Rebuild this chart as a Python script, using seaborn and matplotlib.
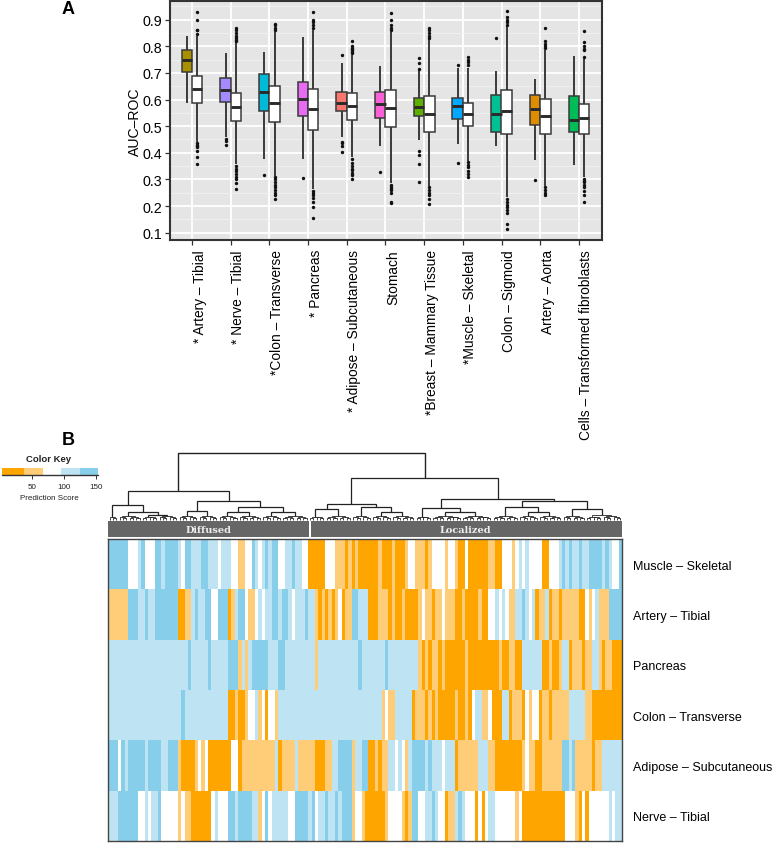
import math
import numpy as np
import pandas as pd
import matplotlib
matplotlib.use("Agg")
import matplotlib.pyplot as plt
from matplotlib.colors import ListedColormap, BoundaryNorm
from matplotlib.transforms import ScaledTranslation
import seaborn as sns

# ---------------- Panel A data ----------------
tissues = ["Artery – Tibial", "Nerve – Tibial", "Colon – Transverse", "Pancreas",
           "Adipose – Subcutaneous", "Stomach", "Breast – Mammary Tissue",
           "Muscle – Skeletal", "Colon – Sigmoid", "Artery – Aorta",
           "Cells – Transformed fibroblasts"]
tick_labels = ["* Artery – Tibial", "* Nerve – Tibial", "*Colon – Transverse", "* Pancreas",
               "* Adipose – Subcutaneous", "Stomach", "*Breast – Mammary Tissue",
               "*Muscle – Skeletal", "Colon – Sigmoid", "Artery – Aorta",
               "Cells – Transformed fibroblasts"]
tissue_colors = ["#A89000", "#A58AFF", "#00BAD8", "#E76BF3", "#F8766D", "#FB61D7",
                 "#5FAF00", "#00A9FF", "#00C094", "#DE8C00", "#00BC56"]

# low whisker, q1, median, q3, high whisker
tissue_box = [
    [0.586, 0.702, 0.747, 0.786, 0.840],
    [0.458, 0.592, 0.636, 0.681, 0.773],
    [0.377, 0.558, 0.627, 0.695, 0.777],
    [0.377, 0.537, 0.602, 0.664, 0.834],
    [0.458, 0.556, 0.587, 0.630, 0.736],
    [0.427, 0.530, 0.585, 0.630, 0.727],
    [0.449, 0.537, 0.573, 0.607, 0.712],
    [0.433, 0.527, 0.577, 0.606, 0.720],
    [0.424, 0.478, 0.547, 0.616, 0.706],
    [0.374, 0.503, 0.565, 0.616, 0.677],
    [0.354, 0.478, 0.525, 0.612, 0.765],
]
random_box = [
    [0.440, 0.588, 0.638, 0.687, 0.840],
    [0.358, 0.518, 0.573, 0.623, 0.815],
    [0.314, 0.516, 0.587, 0.650, 0.852],
    [0.264, 0.487, 0.565, 0.641, 0.862],
    [0.383, 0.525, 0.575, 0.623, 0.767],
    [0.287, 0.496, 0.567, 0.637, 0.852],
    [0.274, 0.477, 0.547, 0.615, 0.827],
    [0.370, 0.500, 0.545, 0.588, 0.720],
    [0.233, 0.472, 0.556, 0.637, 0.875],
    [0.277, 0.469, 0.538, 0.601, 0.787],
    [0.308, 0.472, 0.529, 0.583, 0.752],
]
tissue_outliers = [
    [],
    [0.452, 0.445, 0.428],
    [0.318],
    [0.305],
    [0.767, 0.440, 0.435, 0.425, 0.403],
    [0.327],
    [0.755, 0.736, 0.715, 0.406, 0.390, 0.357, 0.290],
    [0.728, 0.362],
    [0.830],
    [0.298],
    [],
]
random_outliers = [
    [0.845, 0.860, 0.862, 0.900, 0.928, 0.435, 0.430, 0.425, 0.420, 0.405, 0.385, 0.357],
    [0.820, 0.825, 0.830, 0.840, 0.850, 0.860, 0.868, 0.350, 0.340, 0.330, 0.320, 0.310, 0.300, 0.285, 0.265],
    [0.860, 0.870, 0.880, 0.885, 0.310, 0.300, 0.290, 0.280, 0.270, 0.260, 0.250, 0.240, 0.225],
    [0.870, 0.880, 0.890, 0.900, 0.928, 0.255, 0.250, 0.240, 0.230, 0.215, 0.197, 0.155],
    [0.775, 0.780, 0.785, 0.790, 0.795, 0.800, 0.818, 0.375, 0.360, 0.350, 0.340, 0.335, 0.325, 0.315, 0.300],
    [0.860, 0.870, 0.880, 0.900, 0.925, 0.280, 0.270, 0.265, 0.260, 0.250, 0.215, 0.210],
    [0.830, 0.840, 0.850, 0.860, 0.870, 0.270, 0.260, 0.250, 0.240, 0.225, 0.208],
    [0.730, 0.740, 0.750, 0.760, 0.365, 0.355, 0.345, 0.330, 0.320, 0.310],
    [0.880, 0.890, 0.900, 0.910, 0.933, 0.227, 0.215, 0.205, 0.195, 0.185, 0.175, 0.133, 0.115],
    [0.795, 0.800, 0.810, 0.820, 0.870, 0.270, 0.260, 0.250, 0.240],
    [0.760, 0.785, 0.790, 0.800, 0.815, 0.856, 0.300, 0.295, 0.290, 0.280, 0.270, 0.255, 0.240, 0.214],
]

# ---------------- Panel B data ----------------
# Run lengths per row: level letter + number of adjacent samples
row_names = ["Muscle – Skeletal", "Artery – Tibial", "Pancreas", "Colon – Transverse",
             "Adipose – Subcutaneous", "Nerve – Tibial"]
muscle_runs = ("B6 W3 L1 B1 W3 B2 L1 B4 L1 W1 B2 L3 B2 L3 W1 L3 W2 O2 W2 B1 L1 W1 L1 B1 L1 B2 W2 L2 B1 L2 W2 "
               "A5 W3 O3 A1 O1 A1 O1 "
               "A6 O1 A3 O1 A3 O1 W2 O1 O2 A1 O1 W4 O1 W2 O1 A2 W1 A6 O2 A2 W3 O1 W1 L1 W1 L1 W4 A2 W3 "
               "L1 B1 L1 B1 L2 B1 L2 B4 L1 B1 L1 W2 B1")
artery_runs = ("O6 B3 L2 B1 L2 B7 A2 O2 L1 B1 L2 B2 W2 B3 A1 O1 L1 B2 W1 O2 W1 L1 W1 L2 B2 L1 B2 L1 W1 L1 L2 B1 "
               "L2 O1 A1 O1 A1 O1 A1 O1 W1 A1 O2 B2 "
               "L3 A3 O3 A1 O1 A2 O1 A4 O1 W1 O2 A1 O2 W1 O3 A2 O1 A4 O1 A2 W2 L1 W1 L1 W1 O2 L2 B1 L1 W1 L1 "
               "A1 O2 L1 A1 O2 A1 O5 A2 W1 O1 W1 L1 O3 B4")
pancreas_runs = ("L24 B1 L5 B1 L5 B3 O1 L1 O1 L1 B5 L3 B2 L7 "
                 "L2 O1 L12 "
                 "B1 L7 B1 L9 O1 A1 O1 A1 O2 A1 O1 A6 O1 A9 O1 A2 O2 A2 L6 A2 O1 A2 O1 L2 A1 O3 A1 O2 L2 O1 A1 O2 A3")
colon_runs = ("L22 B1 L13 A2 O1 A2 O1 W2 L1 O1 W1 A1 W2 O1 L9 "
              "L22 O1 W1 O2 L5 A1 O3 A1 O1 A1 O1 A5 O1 A2 O1 A1 W1 L2 O2 W1 A3 L2 A1 O3 A1 W1 O1 W2 A1 O2 A1 O5 L5 O2 A9")
adipose_runs = ("B3 W1 B1 L1 B5 L1 B4 L2 B3 O1 A4 O1 W1 O1 W1 A7 W2 A1 O10 L1 A1 O4 L1 O5 A3 O2 L2 B4 O1 L1 "
                "L1 B2 A2 O1 A1 O2 L2 W1 L1 W1 O1 L1 B4 L1 B1 L3 W1 L3 A1 O6 L3 O2 A8 O1 W1 O2 A2 O6 B2 L1 B1 O5 A1 O2 L1 L5")
nerve_runs = ("L3 B6 W2 L1 W1 L2 B1 W5 O1 W1 O2 A6 W1 L1 W3 B2 L1 B4 L2 O1 W1 B1 W1 L5 W2 B4 "
              "L1 B1 W1 L2 B1 L2 B1 L1 B3 O1 W1 "
              "W1 O1 A6 O1 W4 O1 A1 O1 B2 W2 L2 B1 L1 W2 A1 O2 L1 B1 L1 W3 A1 W1 A1 W1 L2 W6 O1 W1 A13 W3 O1 A1 W1 A1 W6 L1 W1 L2")
level_scores = {"A": 20, "O": 50, "W": 80, "L": 110, "B": 140}
key_bounds = [3, 38, 67, 96, 125, 153]
key_colors = ["#FFA500", "#FFCC77", "#FFFFFF", "#BEE3F2", "#87CEEB"]

# Dendrogram: (height, left, right); an integer is a tight cluster of that many samples
diffused_tree = (29, (15, 3, (8, 7, (5, 5, 6))),
                 (19, (9, 6, 6), (13, (8, 6, 7), (7.6, 6, 8))))
localized_tree = (42, (16, (11, 5, 8), (13.3, 6, (8, 6, 7))),
                  (21, (11.7, 5, (8, 9, 9)),
                   (19, (13.3, 8, (8, 6, 7)), (11, 7, 11))))
root_height = 67

# ---------------- helpers ----------------
W, H = 774, 845
sns.set_theme(style="ticks")
plt.rcParams["font.family"] = ["Liberation Sans", "DejaVu Sans"]
fig = plt.figure(figsize=(W / 100, H / 100), dpi=100)


def px_axes(left, top, right, bottom):
    return fig.add_axes([left / W, 1 - bottom / H, (right - left) / W, (bottom - top) / H])


def fig_text(x, y, s, **kw):
    fig.text(x / W, 1 - y / H, s, ha=kw.pop("ha", "center"), va=kw.pop("va", "center"), **kw)


def expand(runs):
    out = []
    for tok in runs.split():
        out += [level_scores[tok[0]]] * int(tok[1:])
    return out


# ---------------- Panel A ----------------
ax = px_axes(170, 2, 601.7, 241)
offset = 0.133
box_rows, out_rows = [], []
for i, name in enumerate(tissues):
    for kind, sign, boxes, outs in (("tissue", -1, tissue_box, tissue_outliers),
                                    ("random", 1, random_box, random_outliers)):
        for v in boxes[i]:
            box_rows.append((name, kind, i + sign * offset, v))
        for v in outs[i]:
            out_rows.append((name, kind, i + sign * offset, v))
box_df = pd.DataFrame(box_rows, columns=["tissue", "kind", "pos", "auc"])
out_df = pd.DataFrame(out_rows, columns=["tissue", "kind", "pos", "auc"])

common = dict(x="pos", y="auc", native_scale=True, width=0.27, whis=(0, 100), ax=ax,
              linecolor="#3A3A3A", linewidth=1.1, showfliers=False, saturation=1,
              medianprops=dict(color="#2A2A2A", linewidth=2.1),
              whiskerprops=dict(color="#3A3A3A", linewidth=1.4),
              showcaps=False)
sns.boxplot(data=box_df[box_df.kind == "tissue"], hue="tissue", hue_order=tissues,
            palette=tissue_colors, legend=False, **common)
sns.boxplot(data=box_df[box_df.kind == "random"], color="white", **common)
sns.scatterplot(data=out_df, x="pos", y="auc", ax=ax, color="#111111", s=6, linewidth=0,
                legend=False, zorder=4)

ax.set_xlim(-0.57, 10.59)
ax.set_ylim(0.0726, 0.970)
ax.set_facecolor("#E5E5E5")
ax.set_axisbelow(True)
ax.set_yticks(np.arange(1, 10) / 10)
ax.set_yticks(np.arange(1, 10) / 10 + 0.05, minor=True)
ax.set_xticks(range(len(tissues)))
ax.set_xticklabels(tick_labels, rotation=90, fontsize=9.9, ha="center", va="top", color="black")
ax.grid(True, which="major", color="white", linewidth=1.3)
ax.grid(True, which="minor", axis="y", color="#F2F2F2", linewidth=0.6)
ax.tick_params(axis="y", which="minor", length=0)
ax.tick_params(axis="y", which="major", labelsize=10.3, length=3.5, width=0.9, color="#333333",
               pad=2, labelcolor="black")
ax.tick_params(axis="x", which="major", length=3.5, width=0.9, color="#333333", pad=3)
shift = ScaledTranslation(7.5 / 100, 0, fig.dpi_scale_trans)
for lab in ax.get_xticklabels():
    lab.set_transform(lab.get_transform() + shift)
ax.set_xlabel("")
ax.set_ylabel("AUC–ROC", fontsize=10.1, labelpad=0.5, color="black")
for s in ax.spines.values():
    s.set_visible(True)
    s.set_color("#333333")
    s.set_linewidth(1.5)

fig_text(68, 10, "A", fontsize=13, fontweight="bold", color="black")
fig_text(68, 441, "B", fontsize=13, fontweight="bold", color="black")

# ---------------- Panel B: heat map and key ----------------
matrix = pd.DataFrame([expand(r) for r in (muscle_runs, artery_runs, pancreas_runs,
                                           colon_runs, adipose_runs, nerve_runs)],
                      index=row_names)
hm = px_axes(108, 540, 622, 842)
key = px_axes(1.7, 469, 97.7, 475.7)
sns.heatmap(matrix, ax=hm, cmap=ListedColormap(key_colors), norm=BoundaryNorm(key_bounds, 5),
            xticklabels=False, yticklabels=True, cbar_ax=key,
            cbar_kws=dict(orientation="horizontal", spacing="proportional", ticks=[50, 100, 150]))
hm.set_xlabel("")
hm.yaxis.tick_right()
hm.tick_params(axis="y", length=0, pad=8, labelsize=9.0, labelrotation=0, labelcolor="black")
for s in hm.spines.values():
    s.set_visible(True)
    s.set_color("#444444")
    s.set_linewidth(1.0)

cbar = hm.collections[0].colorbar
cbar.outline.set_visible(False)
cbar.minorticks_off()
cbar.ax.tick_params(length=3, width=0.7, color="#333333", labelsize=5.8, pad=3, labelcolor="#222222")
cbar.set_label("Prediction Score", fontsize=5.8, labelpad=3, color="#222222")
key.axhline(0, color="#333333", linewidth=1.0, clip_on=False)
fig_text(49, 460, "Color Key", fontsize=6.8, fontweight="bold", color="#222222")

# ---------------- Panel B: annotation bar ----------------
band = px_axes(108, 522, 622, 537.7)
band.set_xlim(0, 154)
band.set_ylim(0, 1)
band.axis("off")
band.axvspan(0, 60.3, color="#666666", linewidth=0)
band.axvspan(60.7, 154, color="#666666", linewidth=0)
band.text(30, 0.47, "Diffused", ha="center", va="center", family="DejaVu Serif",
          fontweight="bold", fontsize=7, color="#EEEEEE")
band.text(107, 0.47, "Localized", ha="center", va="center", family="DejaVu Serif",
          fontweight="bold", fontsize=7, color="#EEEEEE")

# ---------------- Panel B: dendrogram ----------------
den = px_axes(108, 450, 622, 521)
den.set_xlim(0, 154)
den.set_ylim(0, 71)
den.axis("off")


def draw_u(xl, hl, xr, hr, h, lw):
    den.plot([xl, xl, xr, xr], [hl, h, h, hr], color="#222222", linewidth=lw,
             solid_joinstyle="miter", solid_capstyle="butt", clip_on=False)


def cluster(start, n):
    """Tight low-level cluster of n samples beginning at column start."""
    if n == 1:
        return start + 0.5, 0.0
    a = n // 2
    xl, hl = cluster(start, a)
    xr, hr = cluster(start + a, n - a)
    h = 1.0 + 1.05 * math.log2(n)
    draw_u(xl, hl, xr, hr, h, 0.6)
    return (xl + xr) / 2, h


def count(node):
    return node if isinstance(node, int) else count(node[1]) + count(node[2])


def walk(node, start):
    if isinstance(node, int):
        return cluster(start, node)
    h, left, right = node
    xl, hl = walk(left, start)
    xr, hr = walk(right, start + count(left))
    draw_u(xl, hl, xr, hr, h, 0.9)
    return (xl + xr) / 2, h


xd, hd = walk(diffused_tree, 0)
xz, hz = walk(localized_tree, count(diffused_tree))
draw_u(xd, hd, xz, hz, root_height, 1.0)

fig.savefig("out.png", dpi=100)
